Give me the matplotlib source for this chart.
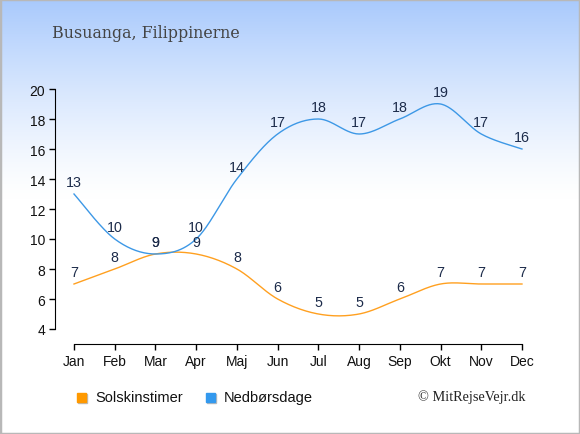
import numpy as np
import matplotlib
matplotlib.use("Agg")
import matplotlib.pyplot as plt
from matplotlib.patches import Rectangle

months = ["Jan", "Feb", "Mar", "Apr", "Maj", "Jun", "Jul", "Aug", "Sep", "Okt", "Nov", "Dec"]
sun_hours = [7, 8, 9, 9, 8, 6, 5, 5, 6, 7, 7, 7]
rain_days = [13, 10, 9, 10, 14, 17, 18, 17, 18, 19, 17, 16]
y_ticks = [4, 6, 8, 10, 12, 14, 16, 18, 20]

SUN_COLOR = "#ffa020"
RAIN_COLOR = "#3d98e6"
LABEL_COLOR = "#1c2b4a"


def smooth(xs, ys, n=30, t=0.5):
    # catmull-rom style curve through the points
    xs = np.asarray(xs, float)
    ys = np.asarray(ys, float)
    px = np.concatenate([[xs[0]], xs, [xs[-1]]])
    py = np.concatenate([[ys[0]], ys, [ys[-1]]])
    out_x, out_y = [], []
    for i in range(1, len(px) - 2):
        m1x = t * (px[i + 1] - px[i - 1])
        m2x = t * (px[i + 2] - px[i])
        m1y = t * (py[i + 1] - py[i - 1])
        m2y = t * (py[i + 2] - py[i])
        s = np.linspace(0, 1, n)
        h00 = 2 * s**3 - 3 * s**2 + 1
        h10 = s**3 - 2 * s**2 + s
        h01 = -2 * s**3 + 3 * s**2
        h11 = s**3 - s**2
        out_x.append(h00 * px[i] + h10 * m1x + h01 * px[i + 1] + h11 * m2x)
        out_y.append(h00 * py[i] + h10 * m1y + h01 * py[i + 1] + h11 * m2y)
    return np.concatenate(out_x), np.concatenate(out_y)


fig = plt.figure(figsize=(5.8, 4.35), dpi=100)

# background gradient
bg = fig.add_axes([0, 0, 1, 1], zorder=-10)
grad = np.ones((435, 1, 3))
top = np.array([0.66, 0.79, 0.99])
for r in range(435):
    f = min(r / 200.0, 1.0)
    f = 1 - (1 - f) ** 1.3
    grad[r, 0] = top * (1 - f) + np.array([1, 1, 1]) * f
bg.imshow(grad, aspect="auto", extent=[0, 1, 0, 1])
bg.add_patch(Rectangle((0, 0), 1, 1, transform=bg.transAxes, fill=False,
                       edgecolor="#b8b8b8", linewidth=2.5))
bg.axis("off")

ax = fig.add_axes([55 / 580, (435 - 330) / 435, 475 / 580, 240 / 435])
ax.patch.set_alpha(0)

x = np.arange(len(months))
sx, sy = smooth(x, sun_hours)
rx, ry = smooth(x, rain_days)
ax.plot(sx, sy, color=SUN_COLOR, linewidth=1)
ax.plot(rx, ry, color=RAIN_COLOR, linewidth=1)

for i in x:
    ax.annotate(str(sun_hours[i]), (i, sun_hours[i]), xytext=(0, 8.6),
                textcoords="offset points", ha="center", va="center",
                fontsize=10.3, color=LABEL_COLOR, family="Liberation Sans")
    ax.annotate(str(rain_days[i]), (i, rain_days[i]), xytext=(0, 8.6),
                textcoords="offset points", ha="center", va="center",
                fontsize=10.3, color=LABEL_COLOR, family="Liberation Sans")

ax.set_xlim(-0.4665, 11.197)
ax.set_ylim(4, 20)
ax.set_xticks(x)
ax.set_xticklabels(months)
ax.set_yticks(y_ticks)
for sp in ["top", "right"]:
    ax.spines[sp].set_visible(False)
ax.spines["bottom"].set_position(("outward", 11))
ax.spines["bottom"].set_bounds(0, 11)
ax.spines["left"].set_bounds(4, 20)
ax.tick_params(direction="out", length=4, width=1, labelsize=10, pad=3)
for lab in ax.get_xticklabels() + ax.get_yticklabels():
    lab.set_family("Liberation Sans")
    lab.set_color("#111111")

fig.text(52 / 580, 1 - 33 / 435, "Busuanga, Filippinerne", family="DejaVu Serif",
         fontsize=11.4, color="#444444", va="center")

# legend
fig.patches.append(Rectangle((78 / 580, 1 - 404 / 435), 9 / 580, 9 / 435,
                             transform=fig.transFigure, color="#bbbbbb"))
fig.patches.append(Rectangle((77 / 580, 1 - 403 / 435), 9 / 580, 9 / 435,
                             transform=fig.transFigure, color="#ff9900"))
fig.text(95 / 580, 1 - 398 / 435, "Solskinstimer", family="Liberation Sans",
         fontsize=10.5, color="#111111", va="center")
fig.patches.append(Rectangle((207 / 580, 1 - 404 / 435), 9 / 580, 9 / 435,
                             transform=fig.transFigure, color="#bbbbbb"))
fig.patches.append(Rectangle((206 / 580, 1 - 403 / 435), 9 / 580, 9 / 435,
                             transform=fig.transFigure, color="#3399ee"))
fig.text(224 / 580, 1 - 398 / 435, "Nedbørsdage", family="Liberation Sans",
         fontsize=10.5, color="#111111", va="center")
fig.text(418 / 580, 1 - 397 / 435, "© MitRejseVejr.dk", family="Liberation Serif",
         fontsize=10.3, color="#222222", va="center")

fig.savefig("out.png", dpi=100)
